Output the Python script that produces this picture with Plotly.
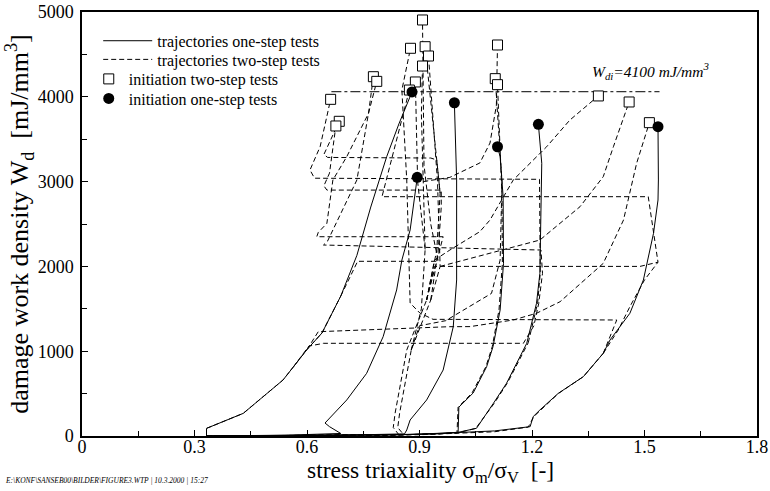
import plotly.graph_objects as go

# ---------------- data ----------------
# one-step trajectories (solid)
A_X = [0.332, 0.332, 0.43, 0.492, 0.536, 0.564, 0.60, 0.64, 0.69, 0.733, 0.77, 0.8125, 0.845, 0.88]
A_Y = [0, 90, 267, 503, 660, 817, 1020, 1215, 1650, 2130, 2700, 3294, 3680, 4057]
B_X = [0.332, 0.55, 0.69, 0.66, 0.648, 0.706, 0.759, 0.803, 0.839, 0.853, 0.875, 0.894]
B_Y = [0, 10, 30, 110, 153, 425, 739, 1171, 1722, 2075, 2430, 3050]
C_X = [0.332, 0.70, 0.86, 0.866, 0.875, 0.919, 0.963, 0.99, 0.999, 0.999, 0.993]
C_Y = [0, 10, 25, 71, 189, 425, 778, 1289, 1840, 3019, 3930]
D_X = [0.332, 0.80, 0.95, 1.003, 1.005, 1.043, 1.079, 1.096, 1.115, 1.124, 1.123, 1.115, 1.108]
D_Y = [0, 10, 25, 45, 340, 507, 817, 1053, 1486, 2036, 2822, 3294, 3411]
E_X = [0.332, 0.85, 1.0, 1.052, 1.097, 1.132, 1.186, 1.212, 1.221, 1.226, 1.217]
E_Y = [0, 15, 40, 91, 385, 621, 1093, 1565, 1918, 3216, 3676]
F_X = [0.332, 0.90, 1.10, 1.195, 1.203, 1.221, 1.27, 1.337, 1.39, 1.408, 1.461, 1.497, 1.524, 1.536, 1.537, 1.536]
F_Y = [0, 20, 60, 110, 228, 307, 503, 700, 975, 1132, 1447, 1840, 2390, 2783, 3019, 3647]

# initiation points, one-step tests (filled circles)
INIT1_X = [0.88, 0.894, 0.993, 1.108, 1.217, 1.536]
INIT1_Y = [4057, 3050, 3930, 3411, 3676, 3647]

# first steps of the two-step tests (shared, dashed)
MID1_X = [0.332, 0.80, 0.845, 0.83, 0.835, 0.866, 0.919]
MID1_Y = [0, 8, 15, 100, 271, 1014, 1604]
MID2_X = [0.332, 0.80, 0.858, 0.842, 0.847, 0.878, 0.93]
MID2_Y = [0, 8, 15, 100, 271, 1014, 1604]
FD_X = [0.332, 0.90, 1.10, 1.19, 1.205, 1.225, 1.27, 1.337, 1.39]
FD_Y = [0, 15, 50, 105, 230, 310, 500, 700, 975]
ED_X = [0.332, 0.85, 1.0, 1.05, 1.10, 1.135, 1.19]
ED_Y = [0, 12, 35, 90, 390, 630, 1100]
AD_X = [0.332, 0.332, 0.43, 0.492, 0.536, 0.564, 0.60, 0.64, 0.69]
AD_Y = [0, 90, 267, 503, 660, 817, 1020, 1215, 1650]
DD_X = [0.332, 0.80, 0.95, 1.0, 1.003, 1.04, 1.077, 1.094, 1.112, 1.121, 1.12]
DD_Y = [0, 10, 25, 40, 340, 507, 817, 1053, 1486, 2036, 2822]

# continuations (transition + second step) of the two-step tests
T01_X = [1.19, 1.215, 1.222, 1.222, 1.22, 0.62, 0.608, 0.635, 0.663]
T01_Y = [1100, 1570, 1920, 2600, 3027, 3040, 3137, 3412, 3970]
T02_X = [0.919, 0.946, 0.955, 0.946, 0.93, 0.655, 0.645, 0.686]
T02_Y = [1604, 2193, 2865, 3255, 3278, 3285, 3320, 3711]
T03_X = [0.93, 0.95, 0.958, 0.958, 0.653, 0.645, 0.66, 0.677]
T03_Y = [1604, 2193, 2700, 2900, 2900, 2950, 3100, 3656]
T04_X = [0.919, 0.96, 0.963, 0.626, 0.63, 0.653, 0.669, 0.706, 0.764, 0.777]
T04_Y = [1604, 2300, 2350, 2350, 2400, 2508, 3019, 3294, 3805, 4237]
T05_X = [0.564, 0.605, 0.644, 1.177, 1.205, 1.218, 1.228, 1.224, 0.644, 0.655, 0.733, 0.764, 0.786]
T05_Y = [817, 1060, 1093, 1093, 1300, 1565, 1918, 2193, 2252, 2300, 3019, 3805, 4182]
T06_X = [1.39, 1.426, 0.936, 0.901, 0.875, 0.868, 0.866, 0.853, 0.876]
T06_Y = [975, 1368, 1376, 1450, 1568, 2500, 3019, 4080, 4572]
T07_X = [0.69, 0.735, 0.95, 0.93, 0.912, 0.908]
T07_Y = [1650, 2060, 2060, 2500, 3200, 4906]
T08_X = [0.955, 0.94, 0.915]
T08_Y = [2865, 3500, 4591]
T09_X = [0.93, 0.955, 0.948, 0.935, 0.924]
T09_Y = [1604, 2000, 3000, 3800, 4481]
T10_X = [0.878, 0.905, 0.915, 0.91, 0.905, 0.908]
T10_Y = [1014, 1500, 2200, 3000, 3800, 4363]
T11_X = [0.915, 0.895, 0.889]
T11_Y = [2200, 3000, 4175]
T11B_X = [0.919, 0.94, 1.488, 1.536]
T11B_Y = [1604, 2000, 2000, 2050]
T12_X = [1.39, 1.43, 1.461, 1.50, 1.536, 1.51, 0.80, 0.835, 0.873]
T12_Y = [975, 1250, 1525, 1840, 2050, 2822, 2822, 3430, 4080]
T13_X = [0.91, 0.981, 1.061, 1.088, 1.105, 1.108]
T13_Y = [3000, 3050, 3220, 3455, 3900, 4611]
T14_X = [0.878, 0.90, 0.97, 1.092, 1.115, 1.12, 1.102]
T14_Y = [1014, 1300, 1360, 1682, 2075, 3000, 4214]
T15_X = [1.12, 1.108]
T15_Y = [2822, 4143]
T16_X = [0.919, 0.94, 0.981, 1.061, 1.088, 1.15, 1.239, 1.301, 1.377]
T16_Y = [1604, 2075, 2193, 2410, 2547, 3019, 3411, 3726, 4010]
T17_X = [0.955, 1.124, 1.221, 1.328, 1.39, 1.417, 1.459]
T17_Y = [2000, 2193, 2311, 2704, 3058, 3411, 3939]
T18_X = [0.60, 0.63, 0.98, 1.035, 1.15, 1.212, 1.275, 1.39, 1.444, 1.479, 1.513]
T18_Y = [1020, 1230, 1289, 1290, 1368, 1447, 1584, 2036, 2547, 3216, 3695]

# initiation points, two-step tests (open squares)
INIT2_X = [0.663, 0.686, 0.677, 0.777, 0.786, 0.876, 0.908, 0.915, 0.924, 0.908, 0.889, 0.873,
           1.108, 1.102, 1.108, 1.377, 1.459, 1.513]
INIT2_Y = [3970, 3711, 3656, 4237, 4182, 4572, 4906, 4591, 4481, 4363, 4175, 4080,
           4611, 4214, 4143, 4010, 3939, 3695]

# critical damage work density line
WDI_X = [0.665, 1.54]
WDI_Y = [4060, 4060]

X_TICKS = [0, 0.3, 0.6, 0.9, 1.2, 1.5, 1.8]
X_TICKTEXT = ["0", "0.3", "0.6", "0.9", "1.2", "1.5", "1.8"]
Y_TICKS = [0, 1000, 2000, 3000, 4000, 5000]

# ---------------- figure ----------------
FONT = "Liberation Serif, Times New Roman, serif"
DASH = "5px,3px"
fig = go.Figure()

one_step = [(A_X, A_Y), (B_X, B_Y), (C_X, C_Y), (D_X, D_Y), (E_X, E_Y), (F_X, F_Y)]
two_step = [(MID1_X, MID1_Y), (MID2_X, MID2_Y), (FD_X, FD_Y), (ED_X, ED_Y), (AD_X, AD_Y), (DD_X, DD_Y),
            (T01_X, T01_Y), (T02_X, T02_Y), (T03_X, T03_Y), (T04_X, T04_Y), (T05_X, T05_Y),
            (T06_X, T06_Y), (T07_X, T07_Y), (T08_X, T08_Y), (T09_X, T09_Y), (T10_X, T10_Y),
            (T11_X, T11_Y), (T11B_X, T11B_Y), (T12_X, T12_Y), (T13_X, T13_Y), (T14_X, T14_Y),
            (T15_X, T15_Y), (T16_X, T16_Y), (T17_X, T17_Y), (T18_X, T18_Y)]

for xs, ys in two_step:
    fig.add_trace(go.Scatter(x=xs, y=ys, mode="lines",
                             line=dict(color="black", width=1, dash=DASH),
                             showlegend=False, hoverinfo="skip"))
for xs, ys in one_step:
    fig.add_trace(go.Scatter(x=xs, y=ys, mode="lines",
                             line=dict(color="black", width=1),
                             showlegend=False, hoverinfo="skip"))

fig.add_trace(go.Scatter(x=WDI_X, y=WDI_Y, mode="lines",
                         line=dict(color="black", width=1, dash="10px,3px,3px,3px"),
                         showlegend=False, hoverinfo="skip"))

fig.add_trace(go.Scatter(x=INIT2_X, y=INIT2_Y, mode="markers",
                         marker=dict(symbol="square", size=10, color="white",
                                     line=dict(color="black", width=1)),
                         name="initiation two-step tests", legend="legend3", hoverinfo="skip"))
fig.add_trace(go.Scatter(x=INIT1_X, y=INIT1_Y, mode="markers",
                         marker=dict(symbol="circle", size=11, color="black",
                                     line=dict(color="black", width=0)),
                         name="initiation one-step tests", legend="legend4", hoverinfo="skip"))

# legend-only entries for the line styles
fig.add_trace(go.Scatter(x=[None], y=[None], mode="lines", line=dict(color="black", width=1),
                         name="trajectories one-step tests", legend="legend"))
fig.add_trace(go.Scatter(x=[None], y=[None], mode="lines",
                         line=dict(color="black", width=1, dash=DASH),
                         name="trajectories two-step tests", legend="legend2"))

fig.add_annotation(x=1.515, y=4300, xref="x", yref="y",
                   text="<i>W<sub>di</sub>=4100 mJ/mm<sup>3</sup></i>",
                   showarrow=False, font=dict(family=FONT, size=15.5, color="black"))

# x-axis title (placed as text so it can sit slightly right of centre, as in the original)
fig.add_annotation(x=0.517, y=-0.086, xref="paper", yref="paper", xanchor="center", yanchor="middle",
                   text="stress triaxiality σ<sub>m</sub>/σ<sub>V</sub>  [-]",
                   showarrow=False, font=dict(family=FONT, size=23.5, color="black"))

fig.add_annotation(x=-0.117, y=-0.106, xref="paper", yref="paper", xanchor="left", yanchor="middle",
                   text="<i>E:\\KONF\\SANSEB00\\BILDER\\FIGURE3.WTP | 10.3.2000 | 15:27</i>",
                   showarrow=False, font=dict(family=FONT, size=7.5, color="black"))


def leg(x, y, iw):
    return dict(x=x, y=y, xanchor="left", yanchor="middle", bgcolor="rgba(0,0,0,0)",
                font=dict(family=FONT, size=16), itemwidth=iw, borderwidth=0)


fig.update_layout(
    width=770, height=491,
    margin=dict(l=82, r=13, t=12, b=55),
    paper_bgcolor="white", plot_bgcolor="white",
    font=dict(family=FONT, color="black"),
    hovermode=False,
    legend=leg(0.024, 0.932, 49),
    legend2=leg(0.024, 0.888, 49),
    legend3=leg(0.010, 0.842, 30),
    legend4=leg(0.010, 0.796, 30),
    xaxis=dict(range=[0, 1.8], tickvals=X_TICKS, ticktext=X_TICKTEXT, automargin=False,
               showgrid=False, zeroline=False, showline=True, linecolor="black",
               linewidth=1.5, mirror=True, ticks="inside", ticklen=6, tickcolor="black",
               tickfont=dict(family=FONT, size=18), ticklabelstandoff=-6,
               minor=dict(dtick=0.15, ticks="inside", ticklen=5, tickcolor="black")),
    yaxis=dict(range=[0, 5000], tickvals=Y_TICKS, automargin=False,
               showgrid=False, zeroline=False, showline=True, linecolor="black",
               linewidth=1.5, mirror=True, ticks="inside", ticklen=6, tickcolor="black",
               tickfont=dict(family=FONT, size=18), ticklabelstandoff=3,
               minor=dict(dtick=500, ticks="inside", ticklen=5, tickcolor="black"),
               title=dict(text="damage work density W<sub>d</sub>  [mJ/mm<sup>3</sup>]",
                          font=dict(family=FONT, size=26), standoff=0)),
)

fig.write_html("out.html", config={"displayModeBar": False},
               post_script="document.body.style.margin='0';")
